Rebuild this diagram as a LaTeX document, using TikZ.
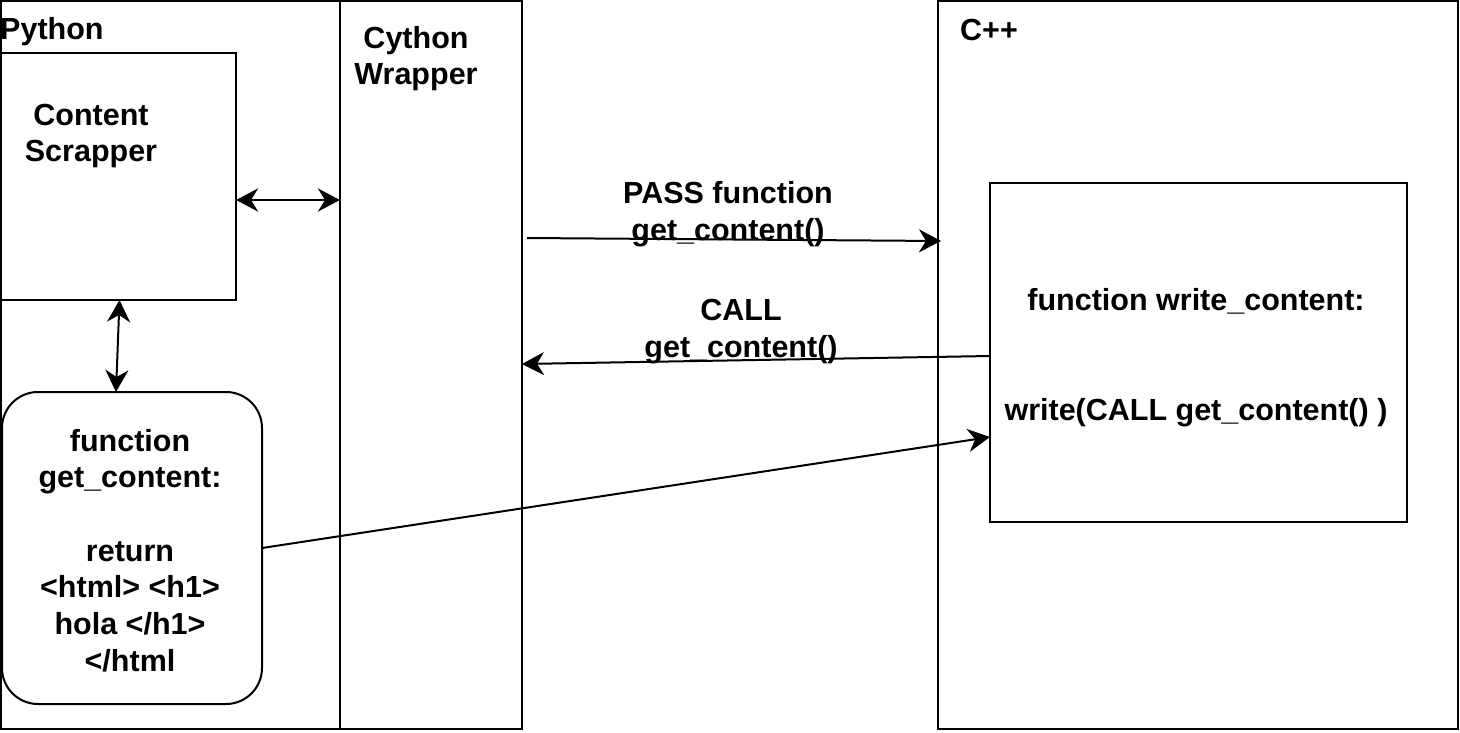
\documentclass[tikz,border=0pt]{standalone}
\usepackage{fontspec}
\setmainfont{Liberation Sans}
\usetikzlibrary{arrows.meta,calc}
\begin{document}
\begin{tikzpicture}[x=1pt,y=-1pt,
  box/.style={draw=black,line width=2pt,inner sep=0pt,outer sep=0pt,anchor=north west},
  lbl/.style={inner sep=0pt,align=center,font=\fontsize{30.5}{36.7}\selectfont\bfseries},
  conn/.style={draw=black,line width=2pt,-{Stealth[length=22pt,width=23pt,inset=7pt]}},
  bconn/.style={draw=black,line width=2pt,{Stealth[length=22pt,width=23pt,inset=7pt]}-{Stealth[length=22pt,width=23pt,inset=7pt]}}]
\useasboundingbox (0,0) rectangle (1460,732);
% containers
\node[box,minimum width=339pt,minimum height=728pt] (py) at (1,1) {};
\node[box,minimum width=182pt,minimum height=728pt] (cy) at (340,1) {};
\node[box,minimum width=520pt,minimum height=728pt] (cpp) at (938,1) {};
\node[box,minimum width=235pt,minimum height=247pt] (cs) at (1,53) {};
\node[box,minimum width=260pt,minimum height=312pt,rounded corners=36pt] (gc) at (2,392) {};
\node[box,minimum width=417pt,minimum height=339pt] (wc) at (990,183) {};
% labels
\node[lbl,anchor=west] (pyl) at (0,32) {Python};
\node[lbl] (cyl) at (416,58.5) {Cython\\Wrapper};
\node[lbl,anchor=west] (cppl) at (960,30) {C++};
\node[lbl] (csl) at (91,136) {Content\\Scrapper};
\node[lbl] (gcl) at (130,550.5) {function\\get\_content:\\~\\return\\<html> <h1>\\hola </h1>\\</html};
\node[lbl] (wcl) at (1196,357.5) {function write\_content:\\~\\~\\write(CALL get\_content() )};
\node[lbl] (passl) at (728,214) {PASS function\\get\_content()};
\node[lbl] (calll) at (741,331.5) {CALL\\get\_content()};
% connectors
\coordinate (passstart) at (527,238);
\draw[bconn] ([yshift=-23.5pt]cs.east) -- ([yshift=-23.5pt]cs.east -| cy.west);
\draw[bconn] ([xshift=1pt]cs.south) -- ([xshift=-16pt]gc.north);
\draw[conn] (passstart) -- ([xshift=3pt]cpp.west |- 0,241);
\draw[conn] ([yshift=-3.5pt]wc.west) -- (cy.east |- 0,364);
\draw[conn] (gc.east) -- ([yshift=-84.5pt]wc.west);
\end{tikzpicture}
\end{document}
